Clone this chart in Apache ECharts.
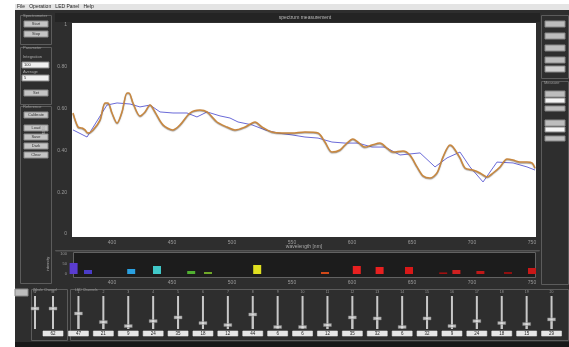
<!DOCTYPE html>
<html><head><meta charset="utf-8">
<script src="https://cdn.jsdelivr.net/npm/echarts@6/dist/echarts.min.js"></script>
<style>html,body{margin:0;padding:0;background:#fff}#c{width:569px;height:347px}</style>
</head><body><div id="c"></div>
<script>
// ---- data ----
const measuredWl = [367.5,371.7,375,377.5,380,384.2,390,394.2,396.7,400,404.2,408.3,412.5,414.2,417.5,423.3,427.5,431.7,435.8,442.5,450.8,456.7,465,473.3,479.2,487.5,495.8,502.5,510.8,519.2,525,533.3,541.7,550,560.8,571.7,577.5,583.3,590,594.2,600.8,605,610.8,616.7,623.3,629.2,634.2,642.5,648.3,654.2,659.2,665,670.8,675.8,681.7,684.2,690,694.2,700.8,706.7,712.5,717.5,723.3,729.2,734.2,740,745.8,750,752.5];
const measuredVal = [0.579,0.512,0.507,0.498,0.483,0.498,0.545,0.627,0.627,0.579,0.531,0.584,0.675,0.675,0.627,0.565,0.584,0.617,0.584,0.522,0.498,0.522,0.579,0.593,0.584,0.536,0.512,0.498,0.512,0.536,0.512,0.488,0.483,0.483,0.488,0.483,0.440,0.392,0.402,0.426,0.455,0.440,0.416,0.426,0.435,0.411,0.392,0.397,0.378,0.321,0.278,0.268,0.292,0.368,0.426,0.416,0.364,0.316,0.306,0.292,0.273,0.292,0.321,0.359,0.354,0.344,0.344,0.340,0.316];
const targetWl = [367.5,379.2,395.8,404.2,415,423.3,431.7,440,450.8,462.5,470.8,479.2,490,498.3,505,516.7,527.5,538.3,550,560.8,571.7,583.3,594.2,605,616.7,627.5,640,656.7,669.2,679.2,690,698.3,709.2,720.8,734.2,745.8,752.5];
const targetVal = [0.498,0.464,0.617,0.627,0.622,0.608,0.617,0.584,0.579,0.579,0.560,0.584,0.565,0.555,0.536,0.522,0.498,0.483,0.474,0.464,0.459,0.440,0.435,0.435,0.416,0.416,0.378,0.388,0.321,0.364,0.392,0.321,0.249,0.344,0.340,0.321,0.306];
const ledWl = [368,380,416,437.5,466,480,521,577.5,604,623,647.5,676,687,707,730,750];
const ledVal = [55,20,25,40,15,10,45,10,40,35,35,8,20,15,10,30];
const ledColors = ['#5a3cd0','#4a3cc8','#2aa0e0','#40c8c8','#50b030','#70a828','#e0e020','#d04818','#e82020','#e82020','#d81818','#a01010','#d02020','#c01818','#901010','#c81818'];
const xTicks = [400,450,500,550,600,650,700,750];
const wholeLabels = ['W','M'];
const wholeValues = [62,62];
const channelLabels = ['1','2','3','4','5','6','7','8','9','10','11','12','13','14','15','16','17','18','19','20'];
const channelValues = [47,21,9,24,35,18,12,44,6,6,12,35,32,6,32,9,24,18,15,29];

const FONT = 'Liberation Sans';
const chart = echarts.init(document.getElementById('c'), null, {renderer:'canvas'});

function rect(x,y,w,h,fill,stroke){return {type:'rect',shape:{x:x,y:y,width:w,height:h},style:{fill:fill||'none',stroke:stroke||null,lineWidth:1},silent:true,z:-10};}
function txt(x,y,t,fill,size,align){return {type:'text',x:x,y:y,style:{text:t,fill:fill||'#aaa',font:(size||5)+'px '+FONT,textAlign:align||'left',textVerticalAlign:'middle'},silent:true,z:-5};}
function btn(x,y,w,h,t){return [rect(x,y,w,h,'#c4c4c4','#8a8a8a'),txt(x+w/2,y+h/2,t,'#333',4,'center')];}

const g = [];
g.push(rect(15,4,554,6,'#e4e4e4'));
g.push(txt(17,7,'File   Operation   LED Panel   Help','#222',5));
g.push(rect(15,10,554,337,'#2e2e2e'));
// left panels
g.push(rect(20.5,15.5,31,29,null,'#5c5c5c'));
g.push(txt(23,16,'Spectrometer','#999',4));
g.push(...btn(24,21,24,6,'Start'));
g.push(...btn(24,31,24,6,'Stop'));
g.push(rect(20.5,47.5,31,57,null,'#5c5c5c'));
g.push(txt(23,48,'Parameter','#999',4));
g.push(txt(23,57,'Integration','#aaa',4));
g.push(rect(22,62,27,6,'#f0f0f0','#888'));
g.push(txt(24,65,'100','#333',4));
g.push(txt(23,72,'Average','#aaa',4));
g.push(rect(22,75,27,6,'#f0f0f0','#888'));
g.push(txt(24,78,'5','#333',4));
g.push(...btn(24,90,24,6,'Set'));
g.push(rect(20.5,106.5,31,177,null,'#5c5c5c'));
g.push(txt(23,107,'Reference','#999',4));
g.push(...btn(24,112,24,6,'Calibrate'));
g.push(...btn(24,125,24,6,'Load'));
g.push(...btn(24,134,24,6,'Save'));
g.push(...btn(24,143,24,6,'Dark'));
g.push(...btn(24,152,24,6,'Clear'));
// chart container
g.push(rect(55,13,485,9,'#242424'));
g.push(txt(305,17.5,'spectrum measurement','#bbb',5,'center'));
g.push(rect(72,23,464,214,'#ffffff'));
g.push(rect(55.5,250.5,484,0.5,null,'#555'));
g.push(rect(73.5,252.5,462,25,'#1c1c1c','#626262'));
// right panels
g.push(rect(541.5,15.5,27,63,null,'#5c5c5c'));
g.push(rect(545,21,20,6,'#bdbdbd','#888'));
g.push(rect(545,33,20,6,'#bdbdbd','#888'));
g.push(rect(545,45,20,6,'#bdbdbd','#888'));
g.push(rect(545,57,20,6,'#bdbdbd','#888'));
g.push(rect(545,66,20,6,'#d0d0d0','#888'));
g.push(rect(541.5,81.5,27,203,null,'#5c5c5c'));
g.push(txt(544,83,'Measure','#999',4));
g.push(rect(545,91,20,6,'#bdbdbd','#888'));
g.push(rect(545,98,20,5,'#f4f4f4','#888'));
g.push(rect(545,106,20,5,'#bdbdbd','#888'));
g.push(rect(545,120,20,6,'#bdbdbd','#888'));
g.push(rect(545,127,20,5,'#f4f4f4','#888'));
g.push(rect(545,136,20,5,'#bdbdbd','#888'));
// bottom panels
g.push(rect(15,289,13,7,'#bdbdbd','#888'));
g.push(rect(31.5,289.5,36,51,null,'#5c5c5c'));
g.push(txt(33,290,'Whole Channel','#999',3.5));
g.push(rect(70.5,289.5,498,51,null,'#5c5c5c'));
g.push(txt(75,290,'LED Channels','#999',3.5));
g.push(rect(15,342,554,5,'#181818'));

const axisTxt = {color:'#9a9a9a', fontSize:5, fontFamily:FONT};
const boxLabel = (vals) => ({show:true, margin:2, fontSize:4.5, fontFamily:FONT, color:'#222', backgroundColor:'#e6e6e6', borderColor:'#999', borderWidth:0.5, width:20, height:5, lineHeight:5, align:'center', padding:[0,0], formatter:(v,i)=>String(vals[i])});

const option = {
  animation:false,
  backgroundColor:'transparent',
  graphic:g,
  grid:[
    {left:73, top:25, width:462, height:209},
    {left:73, top:254, width:462, height:20},
    {left:26, top:296, width:36, height:33},
    {left:66, top:296, width:498, height:33}
  ],
  xAxis:[
    {gridIndex:0, type:'value', min:367.5, max:752.5, axisLine:{show:false}, axisTick:{show:false}, splitLine:{show:false},
     axisLabel:Object.assign({margin:6, customValues:xTicks}, axisTxt),
     name:'wavelength [nm]', nameLocation:'middle', nameGap:10, nameMoveOverlap:false, nameTextStyle:{color:'#aaa', fontSize:5, fontFamily:FONT}},
    {gridIndex:1, type:'value', min:367.5, max:752.5, axisLine:{show:false}, axisTick:{show:false}, splitLine:{show:false},
     axisLabel:Object.assign({margin:6, customValues:xTicks}, axisTxt)},
    {gridIndex:2, type:'category', data:wholeLabels, axisLine:{show:false}, axisTick:{show:false}, axisLabel:boxLabel(wholeValues)},
    {gridIndex:3, type:'category', data:channelLabels, axisLine:{show:false}, axisTick:{show:false}, axisLabel:boxLabel(channelValues)},
    {gridIndex:2, type:'category', position:'top', data:wholeLabels, axisLine:{show:false}, axisTick:{show:false}, axisLabel:{margin:2, fontSize:3.5, color:'#999', fontFamily:FONT}},
    {gridIndex:3, type:'category', position:'top', data:channelLabels, axisLine:{show:false}, axisTick:{show:false}, axisLabel:{margin:2, fontSize:3.5, color:'#999', fontFamily:FONT}}
  ],
  yAxis:[
    {gridIndex:0, type:'value', min:0, max:1, interval:0.2, axisLine:{show:false}, axisTick:{show:false}, splitLine:{show:false},
     axisLabel:Object.assign({margin:6, formatter:v=>(v===0||v===1)?String(v):v.toFixed(2)}, axisTxt),
     name:'ratio', nameLocation:'middle', nameGap:14, nameRotate:90, nameTextStyle:{color:'#aaa', fontSize:5, fontFamily:FONT}},
    {gridIndex:1, type:'value', min:0, max:100, interval:50, axisLine:{show:false}, axisTick:{show:false}, splitLine:{show:false},
     axisLabel:Object.assign({margin:6}, axisTxt, {fontSize:4}),
     name:'intensity', nameLocation:'middle', nameGap:14, nameRotate:90, nameTextStyle:{color:'#aaa', fontSize:4, fontFamily:FONT}},
    {gridIndex:2, type:'value', min:0, max:100, show:false},
    {gridIndex:3, type:'value', min:0, max:100, show:false}
  ],
  series:[
    {type:'line', xAxisIndex:0, yAxisIndex:0, data:targetWl.map((w,i)=>[w,targetVal[i]]), showSymbol:false,
     lineStyle:{color:'#6a6ad8', width:1}, z:3},
    {type:'line', xAxisIndex:0, yAxisIndex:0, data:measuredWl.map((w,i)=>[w,measuredVal[i]]), showSymbol:false, smooth:0.3,
     lineStyle:{color:'#c8873e', width:1.5, shadowColor:'rgba(80,70,60,0.55)', shadowBlur:1, shadowOffsetY:0.8}, z:4},
    {type:'bar', xAxisIndex:1, yAxisIndex:1, barWidth:8,
     data:ledWl.map((w,i)=>({value:[w,ledVal[i]], itemStyle:{color:ledColors[i]}}))},
    {type:'bar', xAxisIndex:2, yAxisIndex:2, data:wholeValues, barWidth:2, itemStyle:{color:'#c8c8c8'}, showBackground:true, backgroundStyle:{color:'#c8c8c8'}},
    {type:'scatter', xAxisIndex:2, yAxisIndex:2, data:wholeValues, symbol:'rect', symbolSize:[8,3], itemStyle:{color:'#e2e2e2', borderColor:'#777', borderWidth:0.5}, z:5},
    {type:'bar', xAxisIndex:3, yAxisIndex:3, data:channelValues, barWidth:2, itemStyle:{color:'#c8c8c8'}, showBackground:true, backgroundStyle:{color:'#c8c8c8'}},
    {type:'scatter', xAxisIndex:3, yAxisIndex:3, data:channelValues, symbol:'rect', symbolSize:[8,3], itemStyle:{color:'#e2e2e2', borderColor:'#777', borderWidth:0.5}, z:5}
  ]
};
chart.setOption(option);
</script>
</body></html>
